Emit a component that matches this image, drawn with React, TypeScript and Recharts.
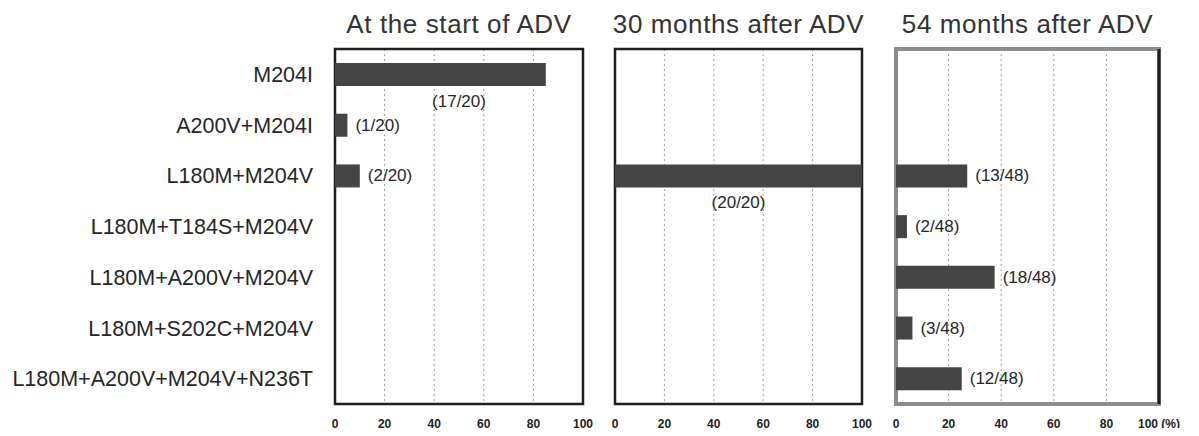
import {
  BarChart,
  Bar,
  XAxis,
  YAxis,
  CartesianGrid,
  LabelList,
  ReferenceArea,
  ReferenceLine,
} from "recharts"

const MUTATIONS = [
  "M204I",
  "A200V+M204I",
  "L180M+M204V",
  "L180M+T184S+M204V",
  "L180M+A200V+M204V",
  "L180M+S202C+M204V",
  "L180M+A200V+M204V+N236T",
]

const START_COUNTS = [17, 1, 2, 0, 0, 0, 0]
const START_TOTAL = 20

const M30_COUNTS = [0, 0, 20, 0, 0, 0, 0]
const M30_TOTAL = 20

const M54_COUNTS = [0, 0, 13, 2, 18, 3, 12]
const M54_TOTAL = 48

const PCT_TICKS = [0, 20, 40, 60, 80, 100]

const FONT = "'Liberation Sans', Arial, Helvetica, sans-serif"
const BAR_COLOR = "#444444"
const TEXT_COLOR = "#262626"

type Row = { name: string; pct: number; count: number; label: string }

function buildRows(counts: number[], total: number): Row[] {
  return MUTATIONS.map((name, i) => ({
    name,
    pct: (counts[i] / total) * 100,
    count: counts[i],
    label: counts[i] > 0 ? `(${counts[i]}/${total})` : "",
  }))
}

function Panel({
  title,
  rows,
  left,
  chartWidth,
  plotLeft,
  plotWidth,
  showNames,
  unitOnLast,
  frameColor,
  frameWidth,
}: {
  title: string
  rows: Row[]
  left: number
  chartWidth: number
  plotLeft: number
  plotWidth: number
  showNames: boolean
  unitOnLast?: boolean
  frameColor: string
  frameWidth: number
}) {
  const yWidth = showNames ? plotLeft - left : 0
  const marginLeft = showNames ? 0 : plotLeft - left
  const marginRight = chartWidth - (plotLeft - left) - plotWidth

  // big bars get the count centred under them, small ones to the right
  // (index from LabelList skips zero bars, so look the row up by its label)
  const renderLabel = (props: any) => {
    const { x, y, width, height, value } = props
    const row = rows.find((r) => r.label === value)
    if (!row || !row.count) return null
    if (row.pct > 50) {
      const cx = x + (width * 50) / row.pct
      return (
        <text
          x={cx}
          y={y + height + 15}
          textAnchor="middle"
          dominantBaseline="central"
          fontSize={17}
          fill={TEXT_COLOR}
          fontFamily={FONT}
        >
          {row.label}
        </text>
      )
    }
    return (
      <text
        x={x + width + 8}
        y={y + height / 2}
        textAnchor="start"
        dominantBaseline="central"
        fontSize={17}
        fill={TEXT_COLOR}
        fontFamily={FONT}
      >
        {row.label}
      </text>
    )
  }

  return (
    <div style={{ position: "absolute", left, top: 0, width: chartWidth, height: 436 }}>
      <div
        style={{
          position: "absolute",
          left: plotLeft - left - 20,
          width: plotWidth + 40,
          top: 8,
          textAlign: "center",
          fontSize: 26,
          fontFamily: FONT,
          color: "#333",
          lineHeight: "32px",
          letterSpacing: 0.6,
          whiteSpace: "nowrap",
        }}
      >
        {title}
      </div>
      <BarChart
        width={chartWidth}
        height={436}
        data={rows}
        layout="vertical"
        barCategoryGap={0}
        margin={{ top: 49, right: marginRight, bottom: 0, left: marginLeft }}
        style={{ overflow: "visible" }}
      >
        <CartesianGrid
          horizontal={false}
          stroke="#a0a0a0"
          strokeDasharray="2 3"
        />
        <XAxis
          type="number"
          domain={[0, 100]}
          ticks={PCT_TICKS}
          height={32}
          axisLine={false}
          tickLine={false}
          tickSize={0}
          tickMargin={15}
          interval={0}
          tickFormatter={(v: number) => (unitOnLast && v === 100 ? "100 (%)" : String(v))}
          tick={{ fontSize: 12, fill: "#222", fontFamily: FONT, fontWeight: "bold" }}
        />
        <YAxis
          type="category"
          dataKey="name"
          width={yWidth}
          hide={!showNames}
          axisLine={false}
          tickLine={false}
          tickSize={0}
          tickMargin={22}
          interval={0}
          tick={{ fontSize: 21.5, fill: TEXT_COLOR, fontFamily: FONT }}
        />
        <Bar dataKey="pct" fill={BAR_COLOR} barSize={23} isAnimationActive={false}>
          <LabelList dataKey="label" content={renderLabel} />
        </Bar>
        <ReferenceArea
          x1={0}
          x2={100}
          fill="none"
          fillOpacity={0}
          stroke={frameColor}
          strokeWidth={frameWidth}
          ifOverflow="visible"
        />
        {unitOnLast && (
          <ReferenceLine x={100} stroke="#1e1e1e" strokeWidth={3} ifOverflow="visible" />
        )}
      </BarChart>
    </div>
  )
}

export default function App() {
  return (
    <div
      style={{
        position: "relative",
        width: 1199,
        height: 436,
        margin: -8,
        background: "#fff",
        overflow: "hidden",
      }}
    >
      <Panel
        title="At the start of ADV"
        rows={buildRows(START_COUNTS, START_TOTAL)}
        left={0}
        chartWidth={600}
        plotLeft={335}
        plotWidth={248}
        showNames
        frameColor="#1e1e1e"
        frameWidth={2.5}
      />
      <Panel
        title="30 months after ADV"
        rows={buildRows(M30_COUNTS, M30_TOTAL)}
        left={595}
        chartWidth={285}
        plotLeft={615}
        plotWidth={247}
        showNames={false}
        frameColor="#1e1e1e"
        frameWidth={2.5}
      />
      <Panel
        title="54 months after ADV"
        rows={buildRows(M54_COUNTS, M54_TOTAL)}
        left={875}
        chartWidth={324}
        plotLeft={896}
        plotWidth={263}
        showNames={false}
        unitOnLast
        frameColor="#8c8c8c"
        frameWidth={4}
      />
    </div>
  )
}
